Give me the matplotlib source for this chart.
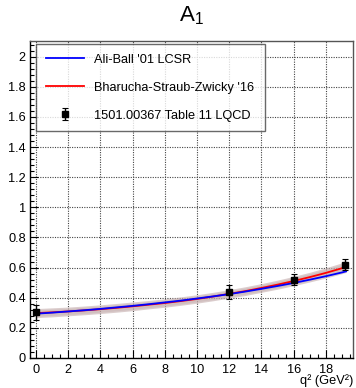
import matplotlib
matplotlib.use("Agg")
import matplotlib.pyplot as plt
from matplotlib.ticker import MultipleLocator, FormatStrFormatter
import numpy as np

plt.rcParams['font.family'] = ['Liberation Sans', 'DejaVu Sans']
plt.rcParams['mathtext.fontset'] = 'custom'
plt.rcParams['mathtext.rm'] = 'Liberation Sans'
plt.rcParams['mathtext.it'] = 'Liberation Sans'

# ---- data ----
q2 = [0, 1, 2, 3, 4, 5, 6, 7, 8, 9, 10, 11, 12, 13, 14, 15, 16, 17, 18, 19, 19.25]
ali_ball = [0.294, 0.301, 0.309, 0.317, 0.326, 0.336, 0.346, 0.357, 0.369, 0.381,
            0.395, 0.409, 0.424, 0.441, 0.459, 0.478, 0.498, 0.520, 0.543, 0.568, 0.575]
bsz = [0.298, 0.303, 0.309, 0.316, 0.324, 0.333, 0.343, 0.354, 0.365, 0.378,
       0.392, 0.408, 0.426, 0.444, 0.465, 0.487, 0.511, 0.537, 0.565, 0.596, 0.605]
bsz_err = [0.030, 0.030, 0.029, 0.029, 0.029, 0.029, 0.029, 0.028, 0.028, 0.028,
           0.028, 0.028, 0.028, 0.029, 0.029, 0.030, 0.031, 0.032, 0.034, 0.036, 0.037]

lqcd_q2 = [0, 12, 16, 19.2]
lqcd_val = [0.303, 0.436, 0.520, 0.620]
lqcd_err = [0.050, 0.046, 0.035, 0.037]

labels = ["Ali-Ball '01 LCSR", "Bharucha-Straub-Zwicky '16", "1501.00367 Table 11 LQCD"]
title = r"$\mathrm{A}_{\mathrm{1}}$"
xlabel = "q² (GeV²)"

FS = 9.2
W, H = 356, 388
fig = plt.figure(figsize=(W / 100, H / 100), dpi=100)
ax = fig.add_axes([30 / W, 1 - 358 / H, 323 / W, 317 / H])

q2a = np.array(q2)
b = np.array(bsz)
e = np.array(bsz_err)
ax.fill_between(q2a, b - e, b + e, color='#c4acac', alpha=0.6, lw=0, zorder=2)
ax.fill_between(q2a, b - 0.7 * e, b + 0.7 * e, color='#c4acac', alpha=0.4, lw=0, zorder=2)

ax.plot(q2, bsz, color='#ff0000', lw=1.3, zorder=3, label=labels[1])
ax.plot(q2, ali_ball, color='#0000ff', lw=1.3, zorder=4, label=labels[0])
ax.errorbar(lqcd_q2, lqcd_val, yerr=lqcd_err, fmt='s', color='black', ms=4.2,
            elinewidth=1.0, capsize=2.5, capthick=0.8, zorder=5, label=labels[2])

ax.set_xlim(-0.37, 19.68)
ax.set_ylim(0, 2.104)

ax.xaxis.set_major_locator(MultipleLocator(2))
ax.xaxis.set_minor_locator(MultipleLocator(0.5))
ax.yaxis.set_major_locator(MultipleLocator(0.2))
ax.yaxis.set_minor_locator(MultipleLocator(0.04))
ax.yaxis.set_major_formatter(FormatStrFormatter('%g'))
ax.tick_params(which='both', direction='in', top=False, right=False,
               labelsize=FS, width=0.8, colors='black')
ax.tick_params(which='major', length=5.5, pad=3)
ax.tick_params(which='minor', length=3)
ax.tick_params(axis='x', which='major', pad=4)

ax.grid(True, which='major', color='#444444', linestyle=(0, (1, 1.2)), lw=0.8, zorder=1)
for s in ax.spines.values():
    s.set_linewidth(1.0)
    s.set_color('black')
ax.spines['top'].set_color('#555555')
ax.spines['right'].set_color('#555555')

fig.text(191.5 / W, 1 - 21 / H, title, fontsize=16, ha='center', va='baseline')
ax.set_xlabel(xlabel, loc='right', fontsize=FS, labelpad=-1)

h, l = ax.get_legend_handles_labels()
order = [l.index(x) for x in labels]
leg = ax.legend([h[i] for i in order], [l[i] for i in order],
                loc='upper left', bbox_to_anchor=(0.0186, 0.7224, 0.709, 0.268),
                mode='expand', borderaxespad=0, fontsize=FS, handlelength=3.0,
                handletextpad=0.75, borderpad=0.75, labelspacing=1.25, frameon=True,
                fancybox=False)
leg.get_frame().set_edgecolor('#444444')
leg.get_frame().set_linewidth(1.0)
leg.set_zorder(10)

fig.savefig('out.png', dpi=100)
